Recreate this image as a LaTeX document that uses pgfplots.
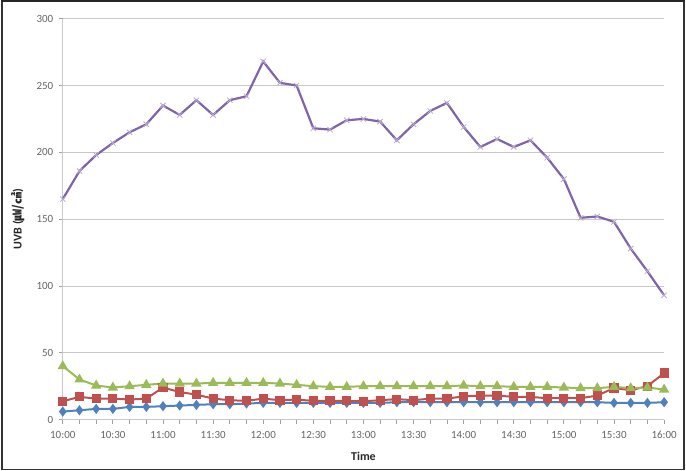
\documentclass[border=0pt]{standalone}
\usepackage{fontspec}
\setmainfont{Carlito}
\newfontfamily\cjk{Noto Sans CJK KR}
\usepackage{pgfplots}
\pgfplotsset{compat=1.18}
\definecolor{cpur}{HTML}{7F64A8}
\definecolor{cred}{HTML}{C0504D}
\definecolor{cgrn}{HTML}{9BBB59}
\definecolor{cblu}{HTML}{4F81BD}
\definecolor{cgrid}{HTML}{C8C8C8}
\definecolor{caxis}{HTML}{A0A0A0}
\definecolor{ctick}{HTML}{666666}
\begin{document}
\begin{tikzpicture}
\draw[line width=1.5pt, black!80] (-61pt,-50pt) rectangle (623pt,420pt);
\draw[line width=2.5pt, black!85] (-61.7pt,419.5pt) -- (623.7pt,419.5pt);
\begin{axis}[
  at={(0,0)}, anchor=south west,
  scale only axis, width=603pt, height=402pt,
  xmin=0, xmax=36, ymin=0, ymax=300,
  axis lines=left, axis line style={draw=cgrid, line width=0.8pt, -},
  xtick={0,3,...,36},
  xticklabels={10:00,10:30,11:00,11:30,12:00,12:30,13:00,13:30,14:00,14:30,15:00,15:30,16:00},
  minor xtick={0,...,36},
  ytick={0,50,...,300},
  ymajorgrids, grid style={draw=cgrid, line width=0.9pt},
  tick align=outside, major tick length=4pt, minor tick length=4pt,
  every tick/.style={draw=caxis, line width=0.8pt},
  minor tick style={draw=caxis, line width=0.8pt},
  tick label style={font=\fontsize{11}{13}\selectfont, text=ctick},
  /pgf/number format/assume math mode=true,
  xticklabel style={yshift=-4pt},
  yticklabel style={xshift=-2pt},
  xlabel={Time},
  ylabel={UVB ({\cjk ㎼/㎠})},
  label style={font=\bfseries\fontsize{12}{14}\selectfont, text=black!85},
  xlabel style={at={(axis description cs:0.5,-0.092)}, anchor=center},
  ylabel style={at={(axis description cs:-0.075,0.5)}, anchor=center},
  clip=false,
]
\addplot[cblu, line width=2pt, mark=diamond*, mark size=3.5pt, mark options={fill=cblu, draw=cblu}] coordinates {
(0,6)(1,7)(2,8)(3,8)(4,9.5)(5,9.5)(6,10)(7,10.5)(8,11)(9,11.5)(10,11.5)(11,12)(12,12.5)(13,12.5)(14,12.5)(15,12.5)(16,12.5)(17,12.5)(18,12.5)(19,12.5)(20,13)(21,13)(22,13)(23,13)(24,13)(25,13)(26,13)(27,13)(28,13)(29,13)(30,13)(31,13)(32,13)(33,12.5)(34,12.5)(35,12.5)(36,13)};
\addplot[cred, line width=2pt, mark=square*, mark size=3.6pt, mark options={fill=cred, draw=cred}] coordinates {
(0,13.7)(1,17)(2,15.7)(3,15.7)(4,15)(5,15.7)(6,24)(7,20.6)(8,18.7)(9,15.7)(10,14.5)(11,14)(12,15.7)(13,14.5)(14,15)(15,14)(16,14)(17,14)(18,13.7)(19,14.5)(20,15.3)(21,14.5)(22,15.7)(23,15.7)(24,17.4)(25,18)(26,18)(27,17)(28,17)(29,16)(30,16)(31,16)(32,18)(33,23.6)(34,22)(35,25)(36,34.8)};
\addplot[cgrn, line width=2pt, mark=triangle*, mark size=4pt, mark options={fill=cgrn, draw=cgrn}] coordinates {
(0,40)(1,30)(2,25.5)(3,24)(4,25)(5,26)(6,27)(7,27)(8,27)(9,27.5)(10,27.5)(11,27.5)(12,27.5)(13,27)(14,26)(15,25)(16,24.5)(17,24.5)(18,25)(19,25)(20,25)(21,25)(22,25)(23,25)(24,25.5)(25,25)(26,25)(27,24.5)(28,24.5)(29,24.5)(30,24)(31,23.5)(32,23.5)(33,24.5)(34,23.5)(35,24)(36,22.5)};
\addplot[cpur, line width=2.2pt, mark=x, mark size=3.8pt, mark options={draw=cpur!55, line width=0.8pt}] coordinates {
(0,165)(1,186)(2,198)(3,207)(4,215)(5,221)(6,235)(7,228)(8,239)(9,228)(10,239)(11,242)(12,268)(13,252)(14,250)(15,218)(16,217)(17,224)(18,225)(19,223)(20,209)(21,221)(22,231)(23,237)(24,219)(25,204)(26,210)(27,204)(28,209)(29,196)(30,180)(31,151)(32,152)(33,148)(34,128)(35,111)(36,93)};
\end{axis}
\end{tikzpicture}
\end{document}
